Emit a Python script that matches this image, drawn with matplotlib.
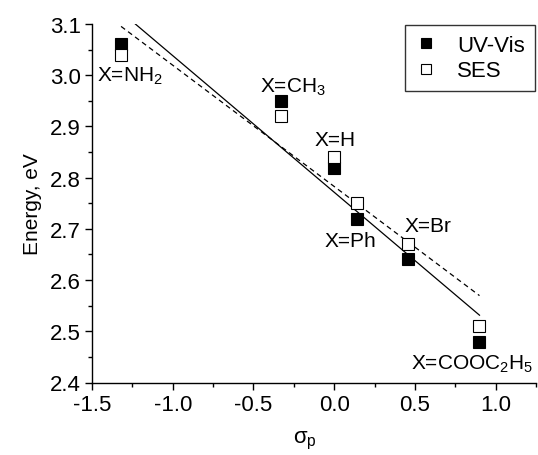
import numpy as np
import matplotlib
matplotlib.use("Agg")
import matplotlib.pyplot as plt
from matplotlib.ticker import MultipleLocator

plt.rcParams['font.family'] = ['Liberation Sans', 'DejaVu Sans']
plt.rcParams['mathtext.fontset'] = 'custom'
plt.rcParams['mathtext.rm'] = 'Liberation Sans'
plt.rcParams['mathtext.it'] = 'Liberation Sans'

# Data
substituents = ["X=NH$_2$", "X=CH$_3$", "X=H", "X=Ph", "X=Br", "X=COOC$_2$H$_5$"]
sigma_p = [-1.32, -0.33, 0.0, 0.14, 0.46, 0.90]
uv_vis = [3.061, 2.950, 2.818, 2.720, 2.641, 2.479]
ses = [3.039, 2.921, 2.841, 2.750, 2.670, 2.511]

# label anchor positions (data coords, centre / baseline)
label_x = [-1.264, -0.254, 0.003, 0.103, 0.580, 0.853]
label_y = [2.989, 2.967, 2.864, 2.666, 2.696, 2.426]

fig = plt.figure(figsize=(5.38, 4.56), dpi=100)
ax = fig.add_axes([92/538, 1-383.5/456, (536-92)/538, (383.5-25)/456])

x = np.array(sigma_p)
xs = np.linspace(x.min(), x.max(), 100)
p1 = np.polyfit(x, uv_vis, 1)
p2 = np.polyfit(x, ses, 1)
ax.plot(xs, np.polyval(p1, xs), color='black', lw=0.9, zorder=2)
ax.plot(xs, np.polyval(p2, xs), color='black', lw=0.9, ls=(0, (4, 3)), zorder=2)

ax.plot(sigma_p, uv_vis, ls='none', marker='s', ms=9, mfc='black', mec='black',
        mew=0.8, label='UV-Vis', zorder=3)
ax.plot(sigma_p, ses, ls='none', marker='s', ms=9, mfc='white', mec='black',
        mew=0.8, label='SES', zorder=3)

for t, lx, ly in zip(substituents, label_x, label_y):
    ax.text(lx, ly, t, ha='center', va='baseline', fontsize=15, clip_on=False, zorder=4)

ax.set_xlim(-1.5, 1.25)
ax.set_ylim(2.4, 3.1)
ax.xaxis.set_minor_locator(MultipleLocator(0.25))
ax.yaxis.set_minor_locator(MultipleLocator(0.05))
ax.set_xticks([-1.5, -1.0, -0.5, 0.0, 0.5, 1.0])
ax.set_xticklabels(['-1.5', '-1.0', '-0.5', '0.0', '0.5', '1.0'])
ax.set_yticks([2.4, 2.5, 2.6, 2.7, 2.8, 2.9, 3.0, 3.1])
ax.set_yticklabels(['2.4', '2.5', '2.6', '2.7', '2.8', '2.9', '3.0', '3.1'])

for s in ['top', 'right']:
    ax.spines[s].set_visible(False)
for s in ['left', 'bottom']:
    ax.spines[s].set_linewidth(1.0)

ax.tick_params(which='major', direction='out', length=5, width=1.0, labelsize=16, pad=3)
ax.tick_params(which='minor', direction='out', length=3, width=1.0)

ax.set_xlabel(r'$\sigma_\mathrm{p}$', fontsize=16)
ax.set_ylabel('Energy, eV', fontsize=15, labelpad=6)
ax.xaxis.set_label_coords((305-92)/(536-92), -46/(383.5-25))

leg = ax.legend(loc='upper right', bbox_to_anchor=(535/538, 1-26/456),
                bbox_transform=fig.transFigure, fontsize=16, frameon=True,
                fancybox=False, edgecolor='black', markerscale=0.75,
                handlelength=1.0, handletextpad=0.9, borderpad=0.45,
                labelspacing=0.2, borderaxespad=0)
leg.get_frame().set_linewidth(1.0)

fig.savefig('out.png', dpi=100)
